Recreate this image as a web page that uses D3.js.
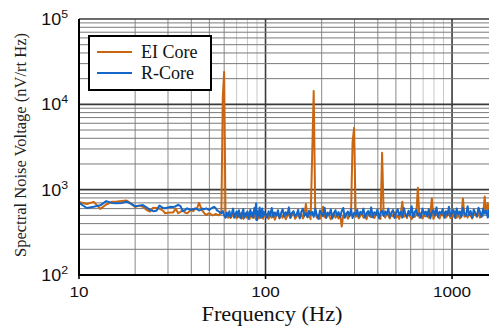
<!DOCTYPE html>
<html>
<head>
<meta charset="utf-8">
<script src="https://cdn.jsdelivr.net/npm/d3@7"></script>
<style>
  body { margin: 0; background: #fff; }
  svg { display: block; }
</style>
</head>
<body>
<svg id="chart" width="489" height="326"></svg>
<script>
// ---- data (nV/rt Hz) ----
// low band: 1 Hz bins, 10 .. 99 Hz
const lowStartHz = 10;
const eiLow = [720, 680, 720, 595, 670, 720, 725, 735, 745, 690,
  625, 650, 630, 580, 555, 615, 610, 595, 575, 530,
  535, 540, 540, 600, 530, 550, 575, 540, 528, 555,
  578, 560, 600, 610, 700, 620, 560, 530, 505, 520,
  530, 515, 500, 505, 520, 510, 500, 518, 560, 12000,
  24000, 560, 480, 470, 500, 465, 490, 520, 475, 500,
  460, 510, 480, 470, 530, 490, 455, 500, 520, 470,
  495, 505, 450, 485, 520, 470, 500, 540, 470, 445,
  490, 515, 460, 480, 530, 470, 500, 455, 520, 490];
const rLow = [700, 610, 630, 655, 735, 700, 692, 700, 723, 680,
  640, 650, 660, 620, 580, 560, 565, 650, 615, 605,
  620, 630, 625, 640, 665, 640, 560, 575, 605, 590,
  578, 595, 600, 590, 570, 580, 600, 590, 605, 590,
  578, 600, 615, 630, 610, 570, 560, 540, 528, 560,
  500, 470, 540, 495, 560, 480, 530, 600, 470, 520,
  555, 480, 575, 500, 460, 540, 590, 470, 530, 500,
  560, 455, 520, 580, 490, 540, 470, 610, 520, 690,
  440, 560, 500, 620, 470, 540, 600, 480, 550, 510];

// high band: log-spaced bins, 120 per decade, starting at 100 Hz
const highStartHz = 100;
const binsPerDecade = 120;
const eiHigh = [480, 520, 455, 500, 470, 540, 445, 495, 515, 460,
  505, 470, 530, 450, 490, 520, 465, 500, 540, 455,
  485, 510, 470, 530, 460, 495, 680, 475, 505, 450,
  2500, 14300, 520, 470, 495, 455, 510, 630, 480, 465,
  520, 490, 450, 505, 540, 470, 495, 460, 515, 370,
  500, 475, 530, 455, 490, 520, 3600, 5300, 480, 510,
  460, 495, 525, 470, 505, 450, 535, 490, 475, 520,
  465, 500, 540, 480, 455, 2700, 510, 470, 530, 495,
  460, 515, 485, 545, 470, 500, 455, 525, 720, 480,
  505, 465, 535, 490, 450, 520, 480, 510, 1050, 470,
  530, 460, 500, 485, 545, 470, 510, 790, 455, 495,
  525, 480, 460, 515, 500, 540, 470, 495, 530, 465,
  505, 485, 550, 470, 520, 460, 495, 790, 480, 515,
  470, 540, 495, 460, 525, 505, 480, 545, 470, 510,
  495, 830, 520, 700, 480];
const rHigh = [520, 470, 560, 495, 610, 480, 540, 500, 575, 465,
  530, 590, 485, 545, 505, 620, 470, 535, 560, 490,
  515, 580, 460, 545, 600, 495, 530, 475, 565, 510,
  550, 480, 600, 505, 455, 570, 520, 490, 615, 470,
  540, 505, 585, 460, 525, 575, 495, 545, 480, 560,
  610, 470, 520, 555, 490, 595, 465, 535, 505, 580,
  485, 550, 520, 600, 470, 530, 560, 495, 620, 475,
  545, 510, 585, 460, 535, 570, 490, 555, 515, 600,
  480, 540, 575, 465, 530, 590, 500, 550, 470, 610,
  520, 485, 565, 505, 640, 475, 545, 580, 495, 530,
  470, 600, 515, 555, 485, 590, 460, 540, 575, 500,
  620, 480, 550, 520, 595, 470, 560, 505, 630, 490,
  545, 575, 465, 600, 515, 555, 480, 610, 520, 495,
  640, 500, 560, 470, 585, 530, 490, 615, 545, 480,
  600, 525, 565, 470, 590];

const seriesNames = ['EI Core', 'R-Core'];
const seriesColors = ['#c9660f', '#1466c8'];
const xLabels = [10, 100, 1000];
const yExponents = [2, 3, 4, 5];
const xDomain = [10, 1578];
const yDomain = [100, 100000];

// ---- layout ----
const margin = { top: 19, right: 0, bottom: 51, left: 79 };
const W = 489, H = 326;
const width = W - margin.left - margin.right;
const height = H - margin.top - margin.bottom;

const svg = d3.select('#chart');
const g = svg.append('g').attr('transform', `translate(${margin.left},${margin.top})`);

const x = d3.scaleLog().domain(xDomain).range([0, width]);
const y = d3.scaleLog().domain(yDomain).range([height, 0]);

function toPoints(low, high) {
  const pts = low.map((v, i) => [lowStartHz + i, v]);
  high.forEach((v, i) => pts.push([highStartHz * Math.pow(10, i / binsPerDecade), v]));
  return pts;
}
const series = [toPoints(eiLow, eiHigh), toPoints(rLow, rHigh)];

const isMajor = v => Math.abs(Math.log10(v) - Math.round(Math.log10(v))) < 1e-6;
const mantissa = v => Math.round(v / Math.pow(10, Math.floor(Math.log10(v) + 1e-9)));

// grid
const grid = g.append('g');
grid.selectAll('line.gx')
  .data(x.ticks().filter(v => v > xDomain[0]))
  .enter().append('line')
  .attr('x1', d => x(d)).attr('x2', d => x(d))
  .attr('y1', 0).attr('y2', height)
  .attr('stroke', d => isMajor(d) ? '#3a3a3a' : (mantissa(d) > 6 ? '#c8c8c8' : '#8a8a8a'))
  .attr('stroke-width', d => isMajor(d) ? 1.6 : 1);
grid.selectAll('line.gy')
  .data(y.ticks().filter(v => v > yDomain[0]))
  .enter().append('line')
  .attr('x1', 0).attr('x2', width)
  .attr('y1', d => y(d)).attr('y2', d => y(d))
  .attr('stroke', d => isMajor(d) ? '#3a3a3a' : '#7a7a7a')
  .attr('stroke-width', d => isMajor(d) ? 1.6 : 1);

// data
g.append('clipPath').attr('id', 'clip')
  .append('rect').attr('width', width).attr('height', height);
const line = d3.line().x(d => x(d[0])).y(d => y(d[1]));
g.append('g').attr('clip-path', 'url(#clip)')
  .selectAll('path')
  .data(series)
  .enter().append('path')
  .attr('d', line)
  .attr('fill', 'none')
  .attr('stroke', (d, i) => seriesColors[i])
  .attr('stroke-width', 2)
  .attr('stroke-linejoin', 'round');

// axes frame
g.append('line').attr('x1', 0).attr('x2', 0).attr('y1', 0).attr('y2', height)
  .attr('stroke', '#000').attr('stroke-width', 2);
g.append('line').attr('x1', -1).attr('x2', width).attr('y1', height).attr('y2', height)
  .attr('stroke', '#000').attr('stroke-width', 2);
g.selectAll('line.xt').data(xLabels).enter().append('line')
  .attr('x1', d => x(d)).attr('x2', d => x(d))
  .attr('y1', height).attr('y2', height + 4)
  .attr('stroke', '#000').attr('stroke-width', 1.6);

// tick labels
g.selectAll('text.xl').data(xLabels).enter().append('text')
  .attr('transform', d => `translate(${x(d)},${height + 22}) scale(1.14,1)`)
  .attr('text-anchor', 'middle')
  .attr('font-family', 'Liberation Sans, Arial, sans-serif')
  .attr('font-size', 15)
  .attr('fill', '#111')
  .text(d => d);

const yl = g.selectAll('text.yl').data(yExponents).enter().append('text')
  .attr('transform', d => `translate(-11,${y(Math.pow(10, d)) + 6}) scale(1.12,1)`)
  .attr('text-anchor', 'end')
  .attr('font-family', 'Liberation Sans, Arial, sans-serif')
  .attr('font-size', 16)
  .attr('fill', '#111');
yl.append('tspan').text('10');
yl.append('tspan').attr('dy', -7).attr('font-size', 11).text(d => d);

// axis titles
svg.append('text')
  .attr('transform', `translate(272,321) scale(1.12,1)`)
  .attr('text-anchor', 'middle')
  .attr('font-family', 'Liberation Serif, Times New Roman, serif')
  .attr('font-size', 20)
  .attr('fill', '#111')
  .text('Frequency (Hz)');
svg.append('text')
  .attr('transform', `translate(26,145) rotate(-90)`)
  .attr('text-anchor', 'middle')
  .attr('font-family', 'Liberation Serif, Times New Roman, serif')
  .attr('font-size', 16.5)
  .attr('fill', '#222')
  .text('Spectral Noise Voltage (nV/rt Hz)');

// legend
const lg = svg.append('g').attr('transform', 'translate(89,36)');
lg.append('rect').attr('width', 122).attr('height', 54)
  .attr('fill', '#fff').attr('stroke', '#000').attr('stroke-width', 2);
const li = lg.selectAll('g.item').data(seriesNames).enter().append('g')
  .attr('transform', (d, i) => `translate(0,${16 + i * 21})`);
li.append('line').attr('x1', 8).attr('x2', 43)
  .attr('stroke', (d, i) => seriesColors[i]).attr('stroke-width', 2);
li.append('text').attr('x', 52).attr('y', 6)
  .attr('font-family', 'Liberation Serif, Times New Roman, serif')
  .attr('font-size', 18)
  .attr('fill', '#111')
  .text(d => d);
</script>
</body>
</html>
